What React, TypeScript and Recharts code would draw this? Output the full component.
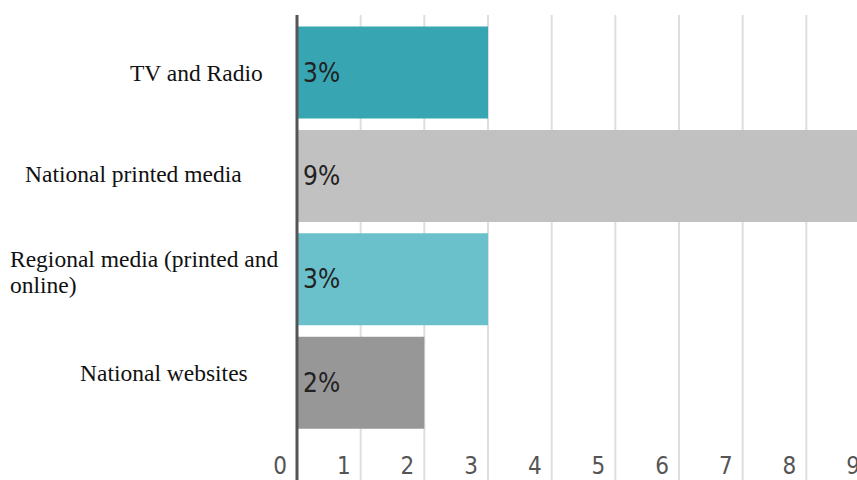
import { BarChart, Bar, XAxis, YAxis, CartesianGrid, Cell, LabelList } from 'recharts';

const categories = ['TV and Radio', 'National printed media', 'Regional media (printed and online)', 'National websites'];
const shares = [3, 9, 3, 2];
const xTicks = [0, 1, 2, 3, 4, 5, 6, 7, 8, 9];

const barColors = ['#38a5b2', '#c1c1c1', '#6ac1cc', '#979797'];
// hand placed label boxes from the original layout: [left x, baseline offset from band centre]
const labelPlacement = [
  [130, 9],
  [25, 6],
  [10, -12],
  [80, -1],
];

const data = categories.map((name, i) => ({ name, value: shares[i] }));

const CategoryTick = ({ y, payload, index }: any) => {
  const [left, dy] = labelPlacement[index] ?? [10, 8];
  const words = String(payload.value).split(' ');
  const lines = words.length > 4 ? [words.slice(0, -1).join(' '), words[words.length - 1]] : [words.join(' ')];
  return (
    <text x={left} y={y + dy} fill="#111" fontFamily="'Liberation Serif', 'Times New Roman', serif" fontSize={23.5}>
      {lines.map((line, i) => (
        <tspan key={i} x={left} dy={i === 0 ? 0 : 26}>
          {line}
        </tspan>
      ))}
    </text>
  );
};

const ValueTick = ({ x, y, payload }: any) => (
  <text
    x={x - 10}
    y={y - 24}
    textAnchor="end"
    fill="#555"
    fontFamily="'Liberation Sans Narrow', 'DejaVu Sans Condensed', sans-serif"
    fontSize={24}
  >
    {payload.value}
  </text>
);

export default function App() {
  return (
    <div style={{ position: 'fixed', top: 0, left: 0, width: 857, height: 480, overflow: 'hidden', background: '#fff' }}>
      <BarChart
        width={900}
        height={500}
        data={data}
        layout="vertical"
        margin={{ top: 15, right: 30, bottom: 0, left: 0 }}
      >
        <CartesianGrid horizontal={false} stroke="#dedede" strokeWidth={2} />
        <XAxis
          type="number"
          domain={[0, 9]}
          ticks={xTicks}
          axisLine={false}
          tickLine={false}
          height={10}
          tick={<ValueTick />}
          interval={0}
        />
        <YAxis
          type="category"
          dataKey="name"
          width={297}
          axisLine={{ stroke: '#555', strokeWidth: 3 }}
          tickLine={false}
          tick={<CategoryTick />}
          padding={{ top: 5.5, bottom: 56 }}
          interval={0}
        />
        <Bar dataKey="value" barSize={92} isAnimationActive={false}>
          {data.map((d, i) => (
            <Cell key={d.name} fill={barColors[i]} />
          ))}
          <LabelList
            dataKey="value"
            position="insideLeft"
            offset={6}
            formatter={(v: any) => `${v}%`}
            fill="#222"
            fontFamily="'Liberation Sans Narrow', 'DejaVu Sans Condensed', sans-serif"
            fontSize={26}
          />
        </Bar>
      </BarChart>
    </div>
  );
}
